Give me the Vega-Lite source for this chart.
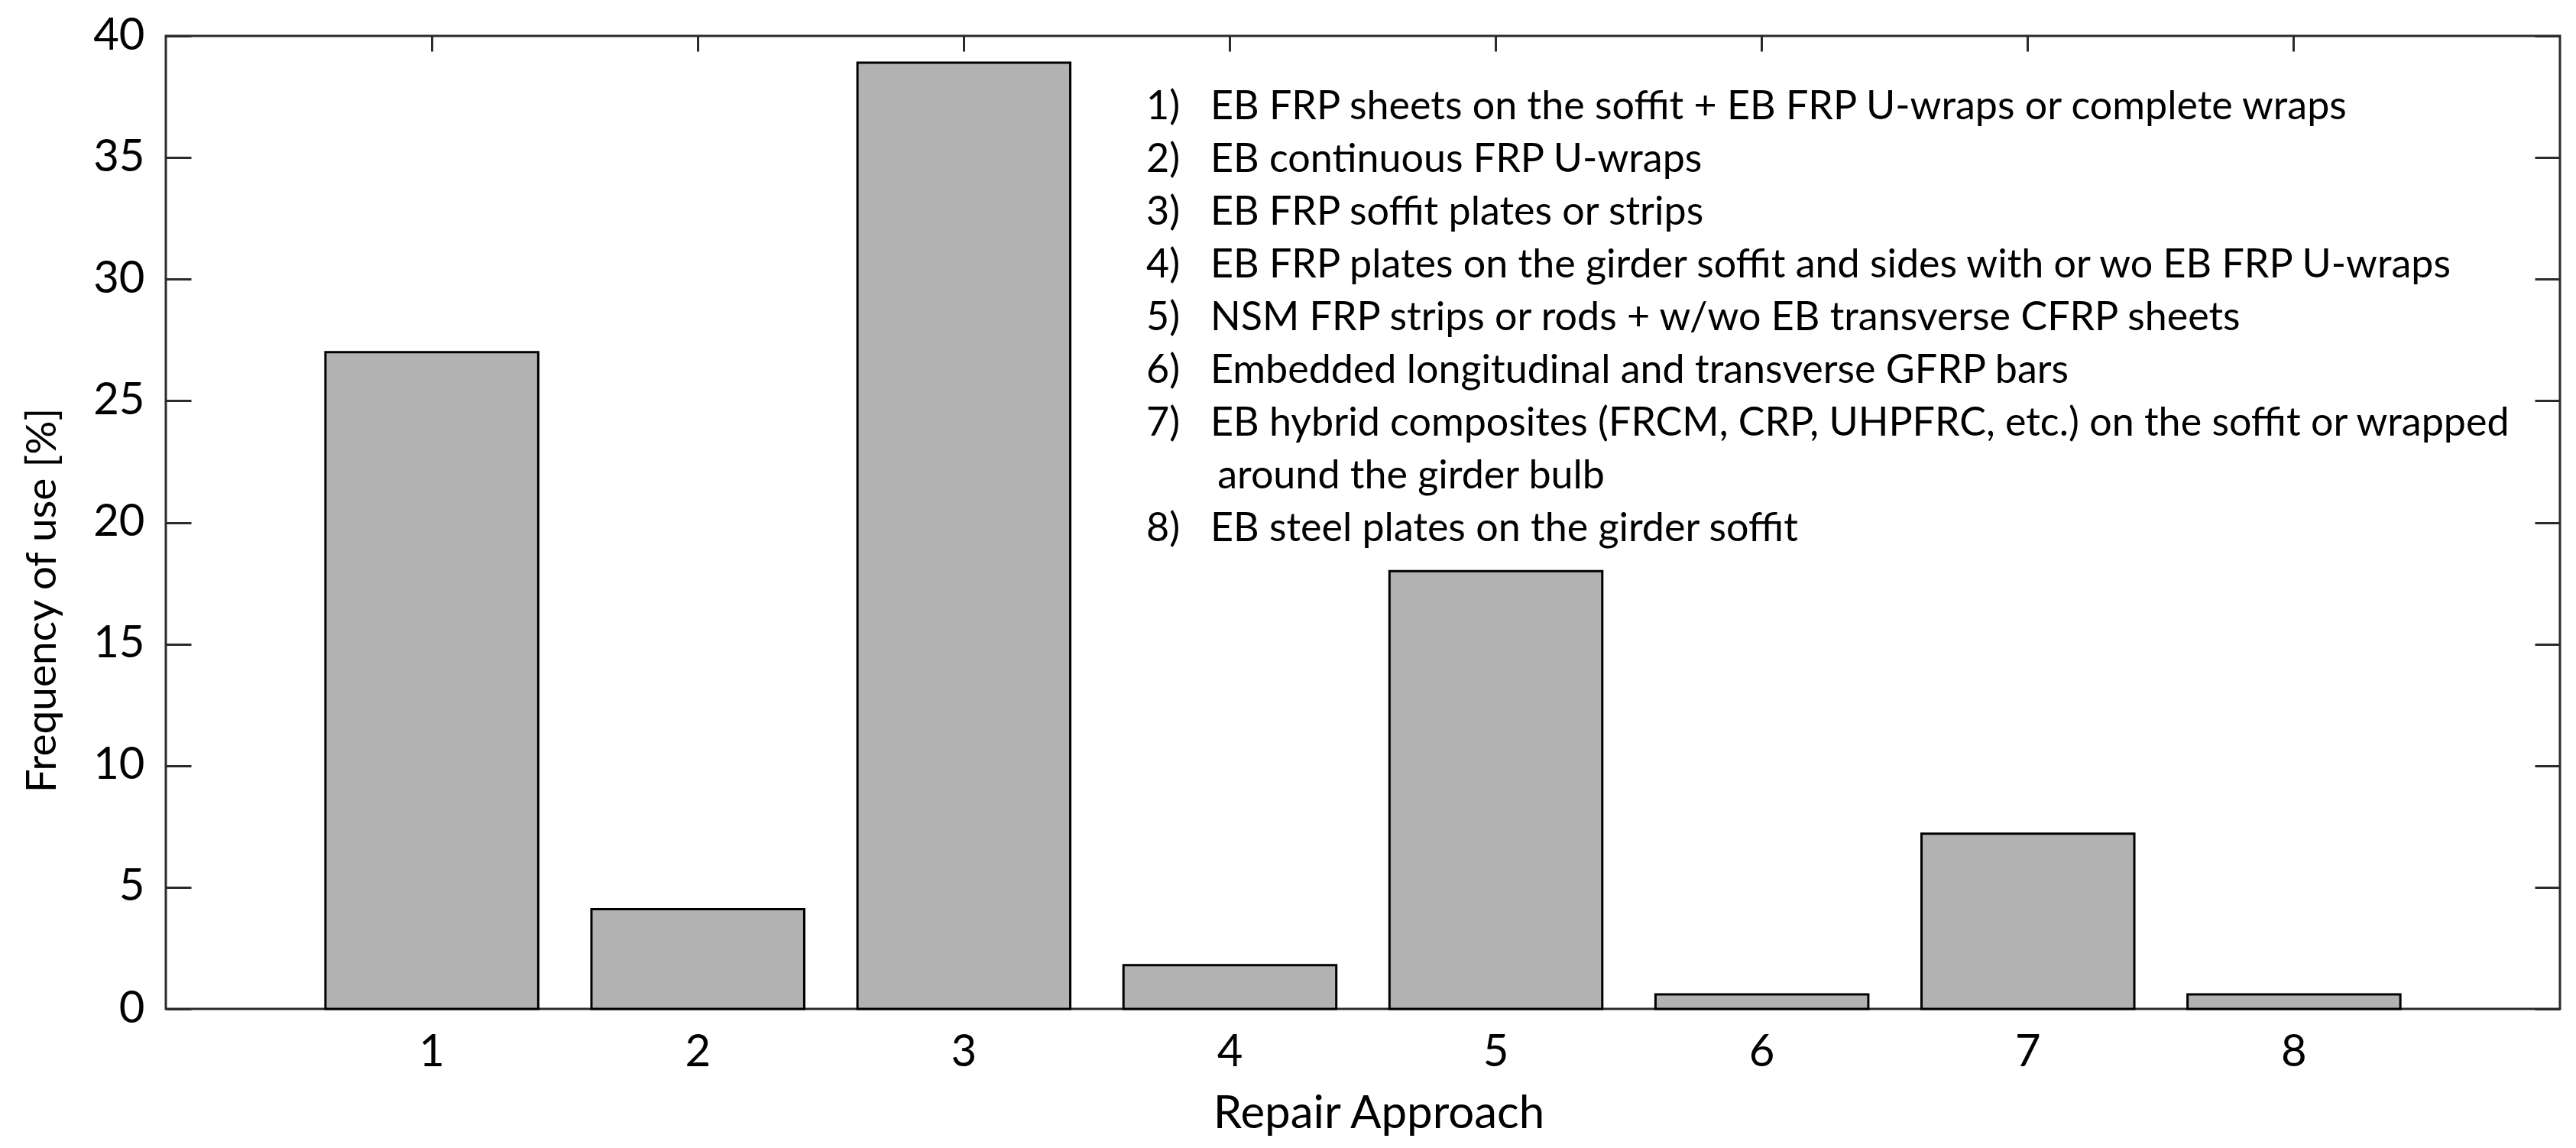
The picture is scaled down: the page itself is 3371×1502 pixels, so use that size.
{
  "$schema": "https://vega.github.io/schema/vega-lite/v6.json",
  "width": 3133,
  "height": 1273,
  "autosize": "none",
  "padding": {"left": 217, "top": 47, "right": 21, "bottom": 182},
  "background": "white",
  "config": {
    "font": "Lato",
    "view": {"stroke": "#2b2b2b", "strokeWidth": 3},
    "axis": {
      "domain": false,
      "grid": false,
      "tickColor": "#2b2b2b",
      "tickWidth": 3,
      "labelFont": "Lato",
      "labelFontSize": 58,
      "labelColor": "black",
      "titleFont": "Lato",
      "titleFontSize": 60,
      "titleFontWeight": "normal",
      "titleColor": "black"
    }
  },
  "datasets": {
    "bars": [
      {"approach": "1", "frequency": 27.0},
      {"approach": "2", "frequency": 4.1},
      {"approach": "3", "frequency": 38.9},
      {"approach": "4", "frequency": 1.8},
      {"approach": "5", "frequency": 18.0},
      {"approach": "6", "frequency": 0.6},
      {"approach": "7", "frequency": 7.2},
      {"approach": "8", "frequency": 0.6}
    ],
    "notes": [
      {"note": "1)\u00a0\u00a0\u00a0EB FRP sheets on the soffit + EB FRP U-wraps or complete wraps"},
      {"note": "2)\u00a0\u00a0\u00a0EB continuous FRP U-wraps"},
      {"note": "3)\u00a0\u00a0\u00a0EB FRP soffit plates or strips"},
      {"note": "4)\u00a0\u00a0\u00a0EB FRP plates on the girder soffit and sides with or wo EB FRP U-wraps"},
      {"note": "5)\u00a0\u00a0\u00a0NSM FRP strips or rods + w/wo EB transverse CFRP sheets"},
      {"note": "6)\u00a0\u00a0\u00a0Embedded longitudinal and transverse GFRP bars"},
      {"note": "7)\u00a0\u00a0\u00a0EB hybrid composites (FRCM, CRP, UHPFRC, etc.) on the soffit or wrapped"},
      {"note": "\u200b\u00a0\u00a0\u00a0\u00a0\u00a0\u00a0\u00a0around the girder bulb"},
      {"note": "8)\u00a0\u00a0\u00a0EB steel plates on the girder soffit"}
    ]
  },
  "layer": [
    {
      "data": {"name": "bars"},
      "mark": {"type": "bar", "fill": "#b2b2b2", "stroke": "black", "strokeWidth": 3},
      "encoding": {
        "x": {
          "field": "approach", "type": "ordinal",
          "scale": {"paddingInner": 0.2, "paddingOuter": 0.6},
          "axis": {"orient": "bottom", "title": "Repair Approach", "labelAngle": 0, "offset": -20, "tickSize": 20, "labelPadding": 28, "titlePadding": 22, "titleX": 1587}
        },
        "y": {
          "field": "frequency", "type": "quantitative",
          "scale": {"domain": [0, 40], "nice": false},
          "axis": {"orient": "left", "title": "Frequency of use [%]", "titleFontSize": 55, "values": [0, 5, 10, 15, 20, 25, 30, 35, 40], "offset": -33, "tickSize": 33, "labelPadding": 28, "titlePadding": 37, "titleY": 738}
        }
      }
    },
    {
      "data": {"name": "bars"},
      "mark": {"type": "bar", "opacity": 0},
      "encoding": {
        "x": {
          "field": "approach", "type": "ordinal",
          "scale": {"paddingInner": 0.2, "paddingOuter": 0.6},
          "axis": {"orient": "top", "title": null, "labels": false, "offset": -20, "tickSize": 20}
        },
        "y": {
          "field": "frequency", "type": "quantitative",
          "scale": {"domain": [0, 40], "nice": false},
          "axis": {"orient": "right", "title": null, "labels": false, "values": [0, 5, 10, 15, 20, 25, 30, 35, 40], "offset": -33, "tickSize": 33}
        }
      }
    },
    {
      "data": {"name": "notes"},
      "mark": {"type": "point", "opacity": 0},
      "encoding": {
        "color": {
          "field": "note", "type": "nominal", "sort": null,
          "scale": {"range": ["white"]},
          "legend": {
            "orient": "none", "legendX": 1231, "legendY": 67, "title": null,
            "symbolSize": 0, "symbolOpacity": 0, "symbolStrokeWidth": 0,
            "labelOffset": 0, "labelFont": "Lato", "labelFontSize": 52, "labelColor": "black",
            "labelLimit": 3000, "rowPadding": 17
          }
        }
      }
    }
  ],
  "resolve": {"axis": {"x": "independent", "y": "independent"}}
}
